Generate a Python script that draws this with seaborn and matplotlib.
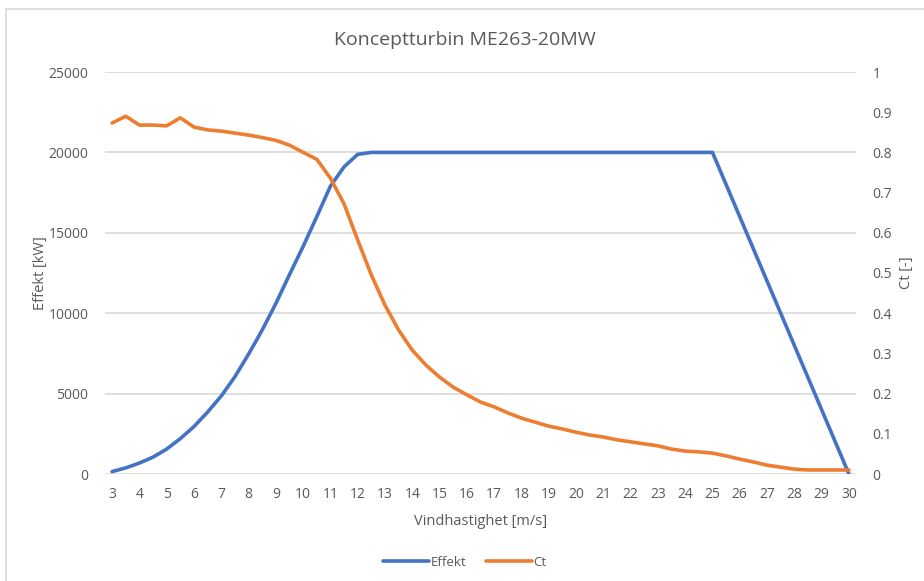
import numpy as np
import pandas as pd
import matplotlib
matplotlib.use("Agg")
import matplotlib.pyplot as plt
from matplotlib.lines import Line2D
import seaborn as sns

# wind speed [m/s]
wind = [3, 3.5, 4, 4.5, 5, 5.5, 6, 6.5, 7, 7.5, 8, 8.5, 9, 9.5, 10, 10.5,
        11, 11.5, 12, 12.5, 13, 13.5, 14, 14.5, 15, 15.5, 16, 16.5, 17, 17.5,
        18, 18.5, 19, 19.5, 20, 20.5, 21, 21.5, 22, 22.5, 23, 23.5, 24, 24.5,
        25, 25.5, 26, 26.5, 27, 27.5, 28, 28.5, 29, 29.5, 30]

# power [kW]
effekt = [150, 380, 680, 1050, 1550, 2200, 2950, 3850, 4850, 6050, 7450, 8950,
          10600, 12400, 14150, 16000, 17900, 19100, 19880, 20000, 20000, 20000,
          20000, 20000, 20000, 20000, 20000, 20000, 20000, 20000, 20000, 20000,
          20000, 20000, 20000, 20000, 20000, 20000, 20000, 20000, 20000, 20000,
          20000, 20000, 20000, 18000, 16000, 14000, 12000, 10000, 8000, 6000,
          4000, 2000, 0]

# thrust coefficient [-]
ct = [0.873, 0.89, 0.868, 0.868, 0.866, 0.886, 0.863, 0.856, 0.853, 0.848,
      0.843, 0.837, 0.83, 0.818, 0.8, 0.783, 0.736, 0.672, 0.582, 0.495, 0.42,
      0.358, 0.308, 0.271, 0.241, 0.216, 0.197, 0.179, 0.167, 0.152, 0.139,
      0.129, 0.119, 0.112, 0.104, 0.097, 0.092, 0.085, 0.08, 0.075, 0.07,
      0.062, 0.057, 0.055, 0.052, 0.045, 0.037, 0.03, 0.022, 0.017, 0.012,
      0.01, 0.01, 0.01, 0.01]

x_ticks = list(range(3, 31))
left_ticks = [0, 5000, 10000, 15000, 20000, 25000]
right_ticks = [0, 0.1, 0.2, 0.3, 0.4, 0.5, 0.6, 0.7, 0.8, 0.9, 1]

BLUE = "#4472C4"
ORANGE = "#ED7D31"
GREY = "#595959"

sns.set_theme(style="white")
plt.rcParams["font.family"] = ["Open Sans", "DejaVu Sans"]

df = pd.DataFrame({"Vind": wind, "Effekt": effekt, "Ct": ct})

fig = plt.figure(figsize=(9.24, 5.81), dpi=100)
ax = fig.add_axes([105 / 924, 1 - 474 / 581, 751 / 924, 402 / 581])
ax2 = ax.twinx()

sns.lineplot(data=df, x="Vind", y="Effekt", ax=ax, color=BLUE, linewidth=2.6)
sns.lineplot(data=df, x="Vind", y="Ct", ax=ax2, color=ORANGE, linewidth=2.6)
ax2.set_zorder(ax.get_zorder() + 1)

ax.set_xlim(2.74, 30.26)
ax.set_ylim(0, 25000)
ax2.set_ylim(0, 1)
ax.set_xticks(x_ticks)
ax.set_yticks(left_ticks)
ax2.set_yticks(right_ticks)
ax2.set_yticklabels([f"{t:g}" for t in right_ticks])

ax.grid(axis="y", color="#D9D9D9", linewidth=1.2)
ax.grid(axis="x", visible=False)
ax2.grid(False)
for a in (ax, ax2):
    for s in a.spines.values():
        s.set_visible(False)
    a.tick_params(length=0, labelsize=10, labelcolor=GREY)
ax.tick_params(axis="y", pad=12)
ax.tick_params(axis="x", pad=9)
ax2.tick_params(axis="y", pad=12)

ax.set_xlabel("Vindhastighet [m/s]", fontsize=10.5, color=GREY, labelpad=9)
ax.set_ylabel("Effekt [kW]", fontsize=10.5, color=GREY, labelpad=0)
ax2.set_ylabel("Ct [-]", fontsize=10.5, color=GREY, labelpad=5)

fig.text(465 / 924, 1 - 40 / 581, "Konceptturbin ME263-20MW", fontsize=14,
         color=GREY, ha="center", va="center")

handles = [Line2D([], [], color=BLUE, lw=2.6), Line2D([], [], color=ORANGE, lw=2.6)]
fig.legend(handles, ["Effekt", "Ct"], loc="center", ncol=2,
           bbox_to_anchor=(465 / 924, 1 - 562 / 581), frameon=False,
           fontsize=9.5, labelcolor=GREY, handlelength=3.5, handletextpad=0.1,
           columnspacing=1.5)

# chart area border (left and top edges visible)
fig.add_artist(Line2D([6 / 924, 6 / 924], [0, 1 - 9 / 581], color="#D9D9D9", lw=1.2,
                      transform=fig.transFigure))
fig.add_artist(Line2D([6 / 924, 1], [1 - 9 / 581, 1 - 9 / 581], color="#D9D9D9", lw=1.2,
                      transform=fig.transFigure))

fig.savefig("out.png", dpi=100, facecolor="white")
